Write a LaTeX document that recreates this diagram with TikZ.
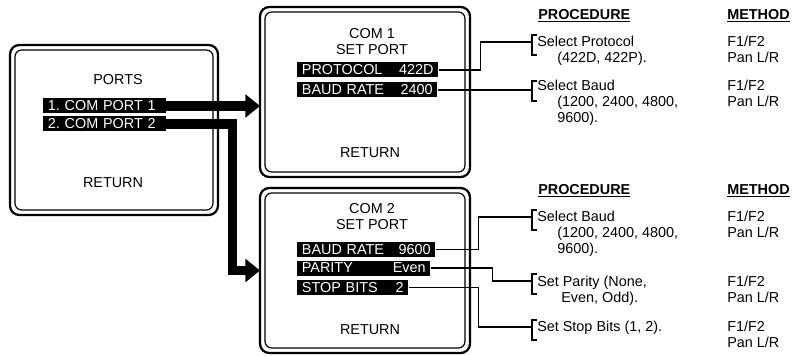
\documentclass[tikz,border=0pt]{standalone}
\usepackage{fontspec}
\setmainfont{Liberation Sans}
\usetikzlibrary{arrows.meta}
\begin{document}
\begin{tikzpicture}
    [
        x=0.75pt, y=-0.75pt,
        font=\fontsize{10.8}{12}\selectfont,
        screen/.style={rectangle, draw, line width=1.7pt, rounded corners=7pt, outer sep=0pt},
        innerframe/.style={line width=0.9pt, rounded corners=5pt},
        bar/.style={rectangle, fill=black, text=white, anchor=west, inner xsep=3.5pt, inner ysep=0pt, minimum height=11.25pt, text height=7.8pt, text depth=0.5pt},
        bigarrow/.style={line width=7pt, -{Triangle[length=11pt, width=17pt]}},
        link/.style={line width=1.2pt},
        brk/.style={line width=2pt},
        proc/.style={anchor=north west, inner sep=0pt, align=left},
        head/.style={anchor=west, inner sep=0pt, font=\fontsize{10.8}{12}\selectfont\bfseries},
    ]
    \useasboundingbox (0,0) rectangle (802,356);
    % screens
    \node (ports) at (114,130) [screen, minimum width=156pt, minimum height=127.5pt] {};
    \node (com1) at (365,92) [screen, minimum width=157.5pt, minimum height=127.5pt] {};
    \node (com2) at (365,270.5) [screen, minimum width=157.5pt, minimum height=123.75pt] {};
    \foreach \s in {ports,com1,com2}
        \draw [innerframe] ([shift={(5,5)}]\s.north west) rectangle ([shift={(-5,-5)}]\s.south east);
    % ports screen
    \node at (118,80) {PORTS};
    \node (port1) at (43,106) [bar, text width=85pt] {\mbox{1.\ COM PORT 1}\hfill};
    \node (port2) at (43,124) [bar, text width=85pt] {\mbox{2.\ COM PORT 2}\hfill};
    \node at (113,183) {RETURN};
    % com 1 screen
    \node at (372,41.5) [align=center] {COM 1\\SET PORT};
    \node (proto) at (297,70) [bar, text width=98.75pt] {PROTOCOL\hfill 422D};
    \node (baud1) at (297,90) [bar, text width=98pt] {BAUD RATE\hfill 2400};
    \node at (370,153) {RETURN};
    % com 2 screen
    \node at (372,216.5) [align=center] {COM 2\\SET PORT};
    \node (baud2) at (297,249.5) [bar, text width=96.5pt] {BAUD RATE\hfill 9600};
    \node (parity) at (297,268) [bar, text width=92.75pt] {PARITY\hfill Even};
    \node (stop) at (297,287.5) [bar, text width=76.25pt] {STOP BITS\hfill 2};
    \node at (370,330) {RETURN};
    % thick arrows
    \draw [bigarrow] (port1.east) -- (port1.east -| com1.west);
    \draw [bigarrow] (port2.east) -- ++(66,0) |- (com2.west);
    % procedure tables
    \node at (538,16) [head] {\underline{PROCEDURE}};
    \node at (727,16) [head] {\underline{METHOD}};
    \node at (538,191) [head] {\underline{PROCEDURE}};
    \node at (727,191) [head] {\underline{METHOD}};
    \coordinate (b1) at (532,42);
    \coordinate (b2) at (532,88);
    \coordinate (b3) at (532,217);
    \coordinate (b4) at (532,281);
    \coordinate (b5) at (532,327);
    \foreach \b in {b1,b2,b3,b4,b5}
        \draw [brk] (\b) ++(5,-7) -- ++(-5,0) -- ++(0,20) -- ++(5,0);
    \node (pr1) at (537,35.6) [proc] {Select Protocol\\\hspace*{15pt}(422D, 422P).};
    \node (pr2) at (537,79.6) [proc] {Select Baud\\\hspace*{15pt}(1200, 2400, 4800,\\\hspace*{15pt}9600).};
    \node (pr3) at (537,210.6) [proc] {Select Baud\\\hspace*{15pt}(1200, 2400, 4800,\\\hspace*{15pt}9600).};
    \node (pr4) at (537,275.6) [proc] {Set Parity (None,\\\hspace*{18pt}Even, Odd).};
    \node (pr5) at (537,320.6) [proc] {Set Stop Bits (1, 2).};
    \foreach \y in {35.6,79.6,210.6,275.6,320.6}
        \node at (727,\y) [proc] {F1/F2\\Pan L/R};
    % links
    \draw [link] (proto.east) -- ++(42,0) |- (b1);
    \draw [link] (baud1.east) -- (baud1.east -| b2);
    \draw [link] (baud2.east) -- ++(43,0) |- (b3);
    \draw [link] (parity.east) -- ++(62,0) |- (b4);
    \draw [link] (stop.east) -- ++(70,0) |- (b5);
\end{tikzpicture}
\end{document}
